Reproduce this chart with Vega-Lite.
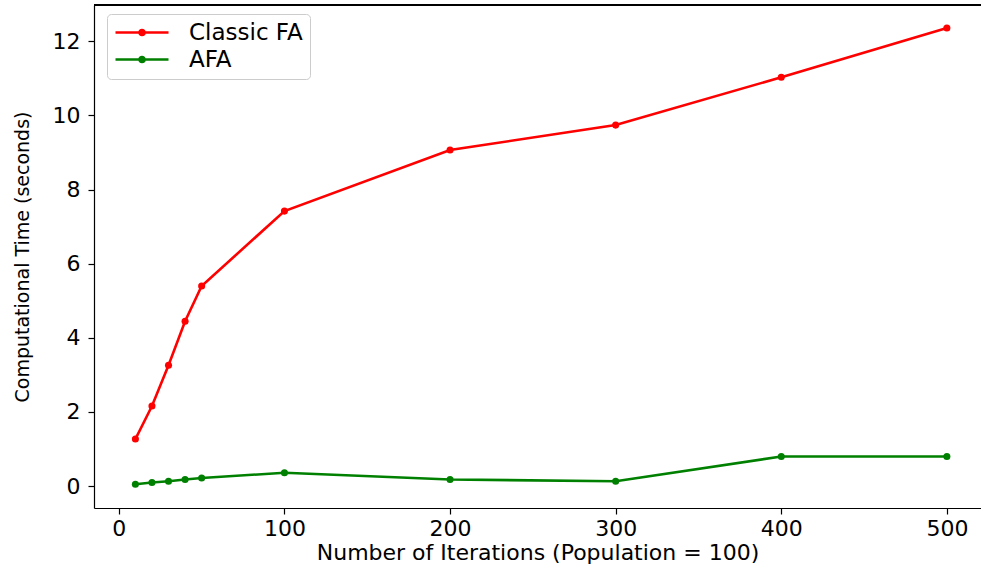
{
  "$schema": "https://vega.github.io/schema/vega-lite/v6.json",
  "width": 887,
  "height": 503,
  "autosize": {"type": "none"},
  "padding": {"left": 94, "top": 5, "right": 0, "bottom": 65},
  "background": "white",
  "config": {
    "view": {"stroke": null},
    "font": "DejaVu Sans",
    "axis": {
      "domainColor": "black",
      "domainWidth": 1.2,
      "tickColor": "black",
      "tickWidth": 1.2,
      "tickSize": 6,
      "labelColor": "black",
      "labelFont": "DejaVu Sans",
      "labelFontSize": 22,
      "titleFont": "DejaVu Sans",
      "titleFontWeight": "normal",
      "titleColor": "black",
      "grid": false
    }
  },
  "data": {
    "values": [
      {"iter": 10, "series": "Classic FA", "time": 1.27},
      {"iter": 20, "series": "Classic FA", "time": 2.16},
      {"iter": 30, "series": "Classic FA", "time": 3.26},
      {"iter": 40, "series": "Classic FA", "time": 4.45},
      {"iter": 50, "series": "Classic FA", "time": 5.40},
      {"iter": 100, "series": "Classic FA", "time": 7.42},
      {"iter": 200, "series": "Classic FA", "time": 9.07},
      {"iter": 300, "series": "Classic FA", "time": 9.74},
      {"iter": 400, "series": "Classic FA", "time": 11.03},
      {"iter": 500, "series": "Classic FA", "time": 12.36},
      {"iter": 10, "series": "AFA", "time": 0.05},
      {"iter": 20, "series": "AFA", "time": 0.10},
      {"iter": 30, "series": "AFA", "time": 0.13},
      {"iter": 40, "series": "AFA", "time": 0.18},
      {"iter": 50, "series": "AFA", "time": 0.22},
      {"iter": 100, "series": "AFA", "time": 0.36},
      {"iter": 200, "series": "AFA", "time": 0.18},
      {"iter": 300, "series": "AFA", "time": 0.13},
      {"iter": 400, "series": "AFA", "time": 0.80},
      {"iter": 500, "series": "AFA", "time": 0.80}
    ]
  },
  "layer": [
    {
      "mark": {"type": "rule", "color": "black", "strokeWidth": 1.2},
      "encoding": {
        "y": {"datum": 12.98, "type": "quantitative", "scale": {"domain": [-0.59, 12.98], "nice": false, "zero": false}}
      }
    },
    {
      "mark": {"type": "line", "strokeWidth": 2.6, "clip": true},
      "encoding": {
        "x": {
          "field": "iter", "type": "quantitative",
          "scale": {"domain": [-15, 520.6], "nice": false, "zero": false},
          "axis": {"values": [0, 100, 200, 300, 400, 500], "title": "Number of Iterations (Population = 100)", "titleFontSize": 22, "labelPadding": 4, "titlePadding": 3}
        },
        "y": {
          "field": "time", "type": "quantitative",
          "scale": {"domain": [-0.59, 12.98], "nice": false, "zero": false},
          "axis": {"values": [0, 2, 4, 6, 8, 10, 12], "title": "Computational Time (seconds)", "titleFontSize": 19, "labelPadding": 8, "titlePadding": 20}
        },
        "color": {
          "field": "series", "type": "nominal",
          "scale": {"domain": ["Classic FA", "AFA"], "range": ["#ff0000", "#008000"]},
          "legend": {
            "title": null,
            "orient": "none",
            "legendX": 13,
            "legendY": 9,
            "padding": 7,
            "fillColor": "white",
            "strokeColor": "#cccccc",
            "cornerRadius": 4,
            "labelFontSize": 23,
            "labelFont": "DejaVu Sans",
            "labelColor": "black",
            "symbolSize": 400,
            "symbolType": "M-1,0H4.3M1.4,0A0.25,0.25 0 1,0 1.9,0A0.25,0.25 0 1,0 1.4,0Z",
            "symbolStrokeWidth": 2.6,
            "rowPadding": 3,
            "labelOffset": 52,
            "encode": {
              "symbols": {
                "update": {
                  "fill": {"scale": "color", "field": "value"},
                  "stroke": {"scale": "color", "field": "value"}
                }
              }
            }
          }
        }
      }
    },
    {
      "mark": {"type": "point", "filled": true, "opacity": 1, "size": 50, "clip": true},
      "encoding": {
        "x": {"field": "iter", "type": "quantitative"},
        "y": {"field": "time", "type": "quantitative"},
        "color": {"field": "series", "type": "nominal", "legend": null}
      }
    }
  ]
}
